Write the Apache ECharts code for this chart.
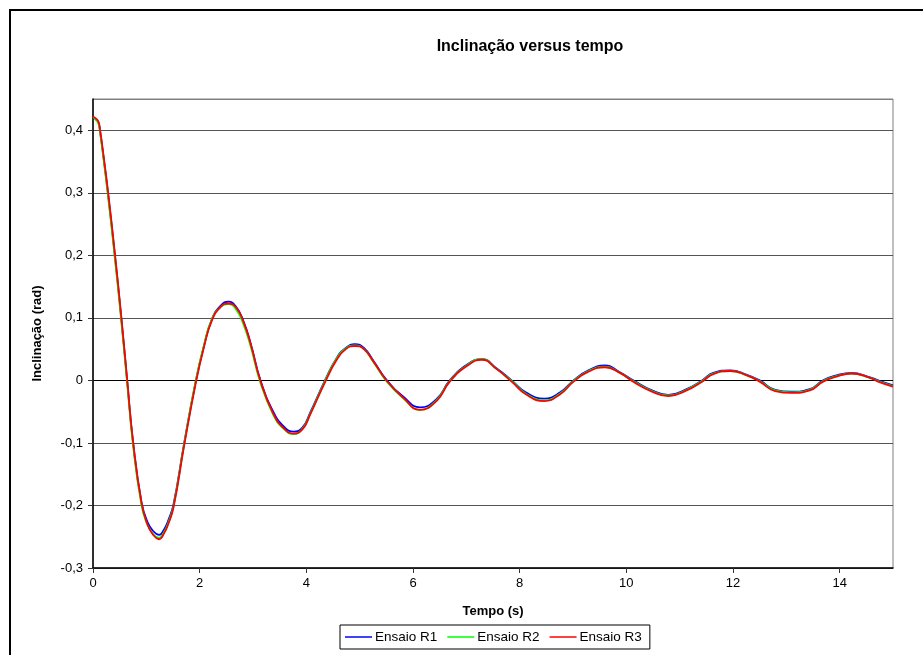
<!DOCTYPE html>
<html>
<head>
<meta charset="utf-8">
<script src="https://cdn.jsdelivr.net/npm/echarts@6/dist/echarts.min.js"></script>
<style>
  html, body { margin: 0; padding: 0; background: #fff; }
  #chart { width: 923px; height: 655px; }
</style>
</head>
<body>
<div id="chart"></div>
<script>
// time (s) shared by the three runs
var tempo = [0, 0.05, 0.1, 0.13, 0.2, 0.28, 0.41, 0.53, 0.64, 0.75, 0.91, 1.02, 1.12, 1.24, 1.33, 1.41, 1.51, 1.71, 1.93, 2.08, 2.23, 2.4,
  2.54, 2.68, 2.82, 2.96, 3.14, 3.38, 3.57, 3.76, 3.93, 4.07, 4.35, 4.57, 4.74, 4.91, 5.08, 5.26, 5.51, 5.82, 6.13, 6.44,
  6.69, 7.01, 7.29, 7.57, 7.85, 8.13, 8.46, 8.76, 9.01, 9.29, 9.6, 9.88, 10.13, 10.48, 10.79, 11.13, 11.42, 11.63, 11.95, 12.26,
  12.5, 12.79, 13.1, 13.44, 13.69, 13.94, 14.22, 14.57, 14.72, 15]

var ensaioR1 = [0.421, 0.418, 0.413, 0.400, 0.355, 0.300, 0.200, 0.100, 0.000, -0.098, -0.195, -0.226, -0.240, -0.247, -0.239, -0.224, -0.198, -0.100, 0.000, 0.055, 0.098, 0.120,
  0.126, 0.118, 0.095, 0.058, 0.000, -0.050, -0.073, -0.082, -0.075, -0.052, 0.000, 0.036, 0.052, 0.058, 0.052, 0.031, 0.000, -0.026, -0.043, -0.030,
  0.000, 0.025, 0.034, 0.019, 0.000, -0.020, -0.029, -0.019, 0.000, 0.016, 0.024, 0.013, 0.000, -0.016, -0.023, -0.014, 0.000, 0.012, 0.016, 0.009,
  0.000, -0.015, -0.018, -0.014, 0.000, 0.008, 0.012, 0.005, 0.000, -0.008]

var ensaioR2 = [0.421, 0.417, 0.411, 0.398, 0.352, 0.296, 0.195, 0.095, -0.004, -0.103, -0.200, -0.231, -0.245, -0.252, -0.243, -0.228, -0.201, -0.101, 0.001, 0.056, 0.098, 0.118,
  0.122, 0.114, 0.090, 0.053, -0.004, -0.055, -0.077, -0.086, -0.077, -0.054, -0.001, 0.035, 0.051, 0.056, 0.050, 0.029, -0.002, -0.029, -0.047, -0.032,
  -0.001, 0.024, 0.034, 0.018, -0.001, -0.022, -0.032, -0.021, -0.001, 0.015, 0.022, 0.012, -0.001, -0.017, -0.024, -0.015, -0.001, 0.011, 0.015, 0.008,
  -0.001, -0.016, -0.019, -0.015, -0.001, 0.007, 0.011, 0.004, -0.001, -0.009]

var ensaioR3 = [0.422, 0.419, 0.414, 0.402, 0.358, 0.303, 0.203, 0.102, 0.002, -0.097, -0.196, -0.230, -0.246, -0.254, -0.245, -0.230, -0.203, -0.104, -0.003, 0.053, 0.096, 0.118,
  0.123, 0.117, 0.094, 0.057, -0.001, -0.053, -0.076, -0.085, -0.078, -0.055, -0.003, 0.033, 0.050, 0.055, 0.050, 0.030, -0.001, -0.028, -0.047, -0.033,
  -0.002, 0.023, 0.033, 0.018, -0.002, -0.023, -0.033, -0.022, -0.002, 0.014, 0.021, 0.012, -0.002, -0.018, -0.025, -0.016, -0.002, 0.010, 0.015, 0.008,
  -0.002, -0.017, -0.020, -0.016, -0.002, 0.006, 0.011, 0.004, -0.002, -0.010]

var seriesNames = ['Ensaio R1', 'Ensaio R2', 'Ensaio R3']
var seriesColors = ['#0000ff', '#00ff00', '#ff0000']

function pairs(ys) {
  return tempo.map(function (t, i) { return [t, ys[i]] })
}

function comma(v) {
  var s = Math.round(v * 10) / 10
  return s === 0 ? '0' : String(s).replace('.', ',')
}

var font = 'Arial, "Liberation Sans", sans-serif'
var chart = echarts.init(document.getElementById('chart'), null, { renderer: 'canvas' })

chart.setOption({
  animation: false,
  backgroundColor: '#fff',
  graphic: [{
    type: 'rect',
    shape: { x: 10, y: 10, width: 940, height: 700 },
    style: { fill: 'none', stroke: '#000', lineWidth: 2 },
    silent: true
  }],
  title: {
    text: 'Inclinação versus tempo',
    left: 530,
    top: 39,
    padding: 0,
    textAlign: 'center',
    textStyle: { fontFamily: font, fontSize: 16, fontWeight: 'bold', color: '#000' }
  },
  legend: {
    data: seriesNames,
    left: 340,
    top: 625,
    padding: [5, 8, 5, 5],
    icon: 'rect',
    itemWidth: 27,
    itemHeight: 1.5,
    itemGap: 10,
    borderColor: '#000',
    borderWidth: 1,
    textStyle: { fontFamily: font, fontSize: 13.5, color: '#000', padding: [0, 0, 0, -2] }
  },
  grid: {
    left: 93,
    top: 99,
    width: 800,
    height: 469,
    show: true,
    borderColor: '#808080',
    borderWidth: 1,
    backgroundColor: '#fff'
  },
  xAxis: {
    type: 'value',
    min: 0,
    max: 15,
    interval: 2,
    name: 'Tempo (s)',
    nameLocation: 'middle',
    nameGap: 37,
    nameTextStyle: { fontFamily: font, fontSize: 13, fontWeight: 'bold', color: '#000' },
    axisLine: { onZero: false, lineStyle: { color: '#000', width: 1.5 } },
    axisTick: { show: true, length: 5, lineStyle: { color: '#333' } },
    axisLabel: { showMaxLabel: false, margin: 9, fontFamily: font, fontSize: 13, color: '#000' },
    splitLine: { show: false }
  },
  yAxis: {
    type: 'value',
    min: -0.3,
    max: 0.45,
    interval: 0.1,
    name: 'Inclinação (rad)',
    nameLocation: 'middle',
    nameGap: 49,
    nameTextStyle: { fontFamily: font, fontSize: 13, fontWeight: 'bold', color: '#000' },
    axisLine: { show: true, onZero: false, lineStyle: { color: '#000', width: 1.5 } },
    axisTick: { show: true, length: 5, lineStyle: { color: '#333' } },
    axisLabel: { showMaxLabel: false, margin: 10, fontFamily: font, fontSize: 13, color: '#000', formatter: comma },
    splitLine: {
      show: true,
      lineStyle: { color: ['#555', '#555', '#555', '#000', '#555', '#555', '#555', '#555', '#808080'], width: 1 }
    }
  },
  series: [ensaioR1, ensaioR2, ensaioR3].map(function (ys, i) {
    return {
      name: seriesNames[i],
      type: 'line',
      data: pairs(ys),
      symbol: 'none',
      smooth: true,
      color: seriesColors[i],
      lineStyle: { color: seriesColors[i], width: 1.8 }
    }
  })
})
</script>
</body>
</html>
